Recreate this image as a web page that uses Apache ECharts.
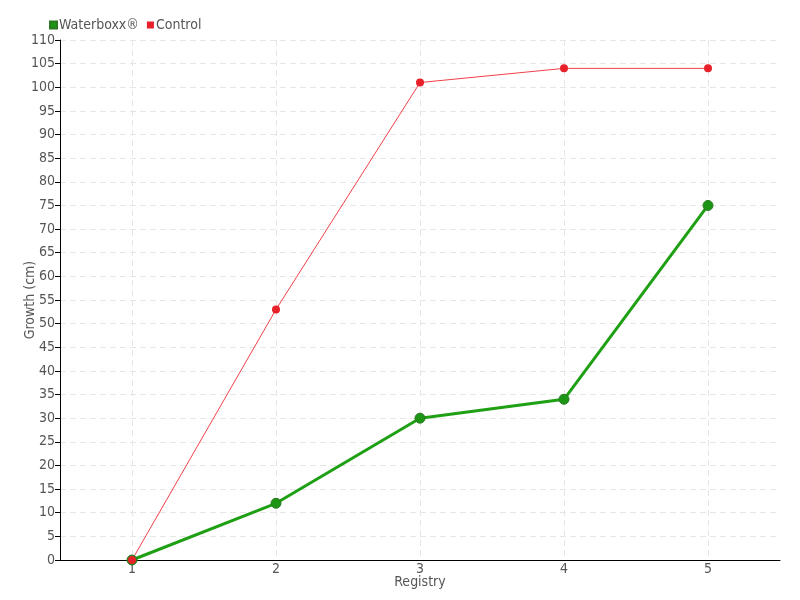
<!DOCTYPE html>
<html><head><meta charset="utf-8">
<script src="https://cdn.jsdelivr.net/npm/echarts@6/dist/echarts.min.js"></script>
<style>html,body{margin:0;padding:0;background:#fff}#c{width:800px;height:600px}</style>
</head><body><div id="c"></div>
<script>
const categories = ['1','2','3','4','5'];
const waterboxx = [0, 12, 30, 34, 75];
const control = [0, 53, 101, 104, 104];
const seriesNames = ['Waterboxx®', 'Control'];

const font = '"Liberation Sans Narrow", "DejaVu Sans Condensed", sans-serif';
const chart = echarts.init(document.getElementById('c'));
chart.setOption({
  animation: false,
  textStyle: {fontFamily: font},
  legend: {
    left: 44, top: 13, itemWidth: 7, itemHeight: 7, itemGap: 8,
    icon: 'rect',
    textStyle: {fontFamily: font, fontSize: 14, color: '#555', padding: [0,0,0,-3]},
    data: seriesNames
  },
  grid: {left: 60, right: 20, top: 40, bottom: 40, outerBoundsMode: 'none', containLabel: false},
  xAxis: {
    type: 'category', data: categories, boundaryGap: true,
    name: 'Registry', nameLocation: 'middle', nameGap: 15, nameMoveOverlap: false,
    nameTextStyle: {fontFamily: font, fontSize: 14, color: '#555'},
    axisLine: {lineStyle: {color: '#000'}},
    axisTick: {alignWithLabel: true, length: 5, lineStyle: {color: '#000'}},
    axisLabel: {fontFamily: font, fontSize: 14, color: '#555', margin: 2},
    splitLine: {show: true, alignWithLabel: true, lineStyle: {color: '#e6e6e6', type: [6, 4]}}
  },
  yAxis: {
    type: 'value', min: 0, max: 110, interval: 5,
    name: 'Growth (cm)', nameLocation: 'middle', nameGap: 23, nameMoveOverlap: false,
    nameTextStyle: {fontFamily: font, fontSize: 14, color: '#555'},
    axisLine: {show: true, lineStyle: {color: '#000'}},
    axisTick: {show: true, length: 5, lineStyle: {color: '#000'}},
    axisLabel: {fontFamily: font, fontSize: 14, color: '#555', margin: 5},
    splitLine: {show: true, lineStyle: {color: '#e6e6e6', type: [6, 4]}}
  },
  series: [
    {name: seriesNames[0], type: 'line', data: waterboxx, color: '#1c9c14',
     lineStyle: {width: 3, color: '#1fa014'}, symbol: 'circle', symbolSize: 10,
     itemStyle: {color: '#1c9414', borderColor: '#2a7a22', borderWidth: 1}},
    {name: seriesNames[1], type: 'line', data: control, color: '#e8202a',
     lineStyle: {width: 1, color: '#f0404a'}, symbol: 'circle', symbolSize: 8,
     itemStyle: {color: '#e8202a'}}
  ]
});
</script></body></html>
